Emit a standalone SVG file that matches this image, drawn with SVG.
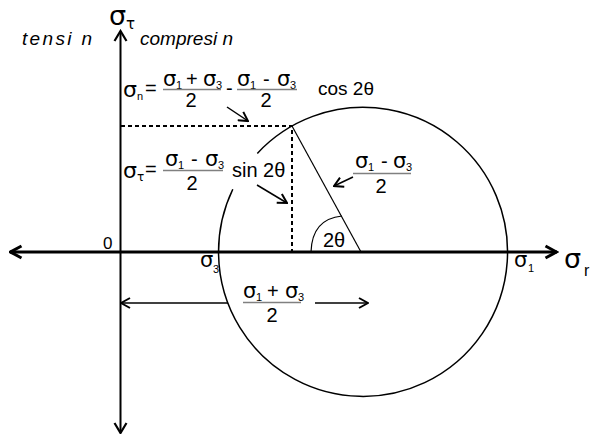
<svg xmlns="http://www.w3.org/2000/svg" width="590" height="434" viewBox="0 0 590 434">
<style>
.t{font-family:"Liberation Sans",Arial,sans-serif;fill:#000}
.s{font-family:"DejaVu Sans","Liberation Sans",sans-serif;fill:#000}
.sg{font-size:21px}
.big{font-size:27px}
.sub{font-size:11px}
.op{font-size:20px}
.it{font-size:19px;font-style:italic}
.bar{stroke:#808080;stroke-width:1.5;fill:none}
.ln{stroke:#000;fill:none}
.dash{stroke:#000;stroke-width:2;stroke-dasharray:4 3;fill:none}
</style>
<defs>
<marker id="ah" markerUnits="userSpaceOnUse" markerWidth="12" markerHeight="12" viewBox="0 0 12 12" refX="11" refY="6" orient="auto-start-reverse">
<path d="M2,1 L11,6 L2,11" fill="none" stroke="#000" stroke-width="2"/>
</marker>
<marker id="axh" markerUnits="userSpaceOnUse" markerWidth="16" markerHeight="16" viewBox="0 0 16 16" refX="14.5" refY="8" orient="auto-start-reverse">
<path d="M3,2 L14,8 L3,14" fill="none" stroke="#000" stroke-width="3"/>
</marker>
<marker id="axv" markerUnits="userSpaceOnUse" markerWidth="16" markerHeight="16" viewBox="0 0 16 16" refX="14" refY="8" orient="auto-start-reverse">
<path d="M4,2 L14,8 L4,14" fill="none" stroke="#000" stroke-width="2.2"/>
</marker>
</defs>
<rect width="590" height="434" fill="#fff"/>

<g id="circle">
<path class="ln" stroke-width="1.5" d="M257.3,153.4 A144.5,144.5 0 1 1 232.8,189.3"/>
<line class="ln" stroke-width="1.2" x1="292" y1="126" x2="361" y2="252"/>
<path class="ln" stroke-width="1.2" d="M311,252 Q312,219 342,216"/>
<path class="dash" d="M121,126 H292 V252"/>
</g>

<g id="connectors">
<path class="ln" stroke-width="3" d="M10,252 H557" marker-start="url(#axh)" marker-end="url(#axh)"/>
<path class="ln" stroke-width="2" d="M120.5,433 V31" marker-start="url(#axv)" marker-end="url(#axv)"/>
<line class="ln" stroke-width="1.5" x1="227" y1="107" x2="248" y2="121" marker-end="url(#ah)"/>
<line class="ln" stroke-width="1.5" x1="257" y1="185" x2="287" y2="203" marker-end="url(#ah)"/>
<line class="ln" stroke-width="1.5" x1="353" y1="177" x2="334" y2="186" marker-end="url(#ah)"/>
<line class="ln" stroke-width="1.5" x1="228" y1="303" x2="121" y2="303" marker-end="url(#ah)"/>
<line class="ln" stroke-width="1.5" x1="315" y1="303" x2="368" y2="303" marker-end="url(#ah)"/>
</g>

<g id="axis-labels">
<text class="s big" x="109" y="25">σ</text>
<text class="s" font-size="15" x="126" y="29">τ</text>
<text class="t it" x="22" y="45" textLength="70" lengthAdjust="spacing">tensi n</text>
<text class="t it" x="140" y="45" textLength="93" lengthAdjust="spacing">compresi n</text>
<text class="t" font-size="17" x="103" y="249">0</text>
<text class="s big" x="564" y="268">σ</text>
<text class="t" font-size="16" x="584" y="276">r</text>
<text class="s sg" x="514" y="267">σ</text><text class="t sub" x="528" y="272">1</text>
<text class="s sg" x="200" y="267">σ</text><text class="t sub" x="213" y="273">3</text>
<text class="t" font-size="20" x="323" y="247">2θ</text>
</g>

<g id="formula-normal">
<text class="s" font-size="22" x="123" y="97">σ</text><text class="t sub" x="137" y="100">n</text>
<text class="t op" x="145" y="95">=</text>
<text class="s sg" x="163" y="86">σ</text><text class="t sub" x="176" y="89">1</text>
<text class="t op" x="186" y="86">+</text>
<text class="s sg" x="203" y="86">σ</text><text class="t sub" x="216" y="89">3</text>
<line class="bar" x1="163" y1="89.5" x2="221" y2="89.5"/>
<text class="t op" x="191" y="107" text-anchor="middle">2</text>
<text class="t op" x="226" y="95">-</text>
<text class="s sg" x="237" y="86">σ</text><text class="t sub" x="250" y="89">1</text>
<text class="t op" x="263" y="86">-</text>
<text class="s sg" x="277" y="86">σ</text><text class="t sub" x="290" y="89">3</text>
<line class="bar" x1="237" y1="89.5" x2="297" y2="89.5"/>
<text class="t op" x="266" y="107" text-anchor="middle">2</text>
<text class="t" font-size="19" x="318" y="95">cos 2θ</text>
</g>

<g id="formula-shear">
<text class="s" font-size="22" x="123" y="178">σ</text><text class="s" font-size="12" x="137" y="181">τ</text>
<text class="t op" x="145" y="176">=</text>
<text class="s sg" x="165" y="166">σ</text><text class="t sub" x="178" y="169">1</text>
<text class="t op" x="191" y="166">-</text>
<text class="s sg" x="205" y="166">σ</text><text class="t sub" x="218" y="169">3</text>
<line class="bar" x1="163" y1="170.5" x2="223" y2="170.5"/>
<text class="t op" x="192" y="190" text-anchor="middle">2</text>
<text class="t" font-size="20" x="232" y="177">sin 2θ</text>
</g>

<g id="label-radius">
<text class="s sg" x="355" y="168">σ</text><text class="t sub" x="368" y="171">1</text>
<text class="t op" x="381" y="168">-</text>
<text class="s sg" x="393" y="168">σ</text><text class="t sub" x="406" y="171">3</text>
<line class="bar" x1="353" y1="173.5" x2="411" y2="173.5"/>
<text class="t op" x="381" y="193" text-anchor="middle">2</text>
</g>

<g id="label-center">
<text class="s sg" x="243" y="298">σ</text><text class="t sub" x="256" y="301">1</text>
<text class="t op" x="267" y="298">+</text>
<text class="s sg" x="285" y="298">σ</text><text class="t sub" x="298" y="301">3</text>
<line class="bar" x1="243" y1="302.5" x2="301" y2="302.5"/>
<text class="t op" x="272" y="322" text-anchor="middle">2</text>
</g>
</svg>
